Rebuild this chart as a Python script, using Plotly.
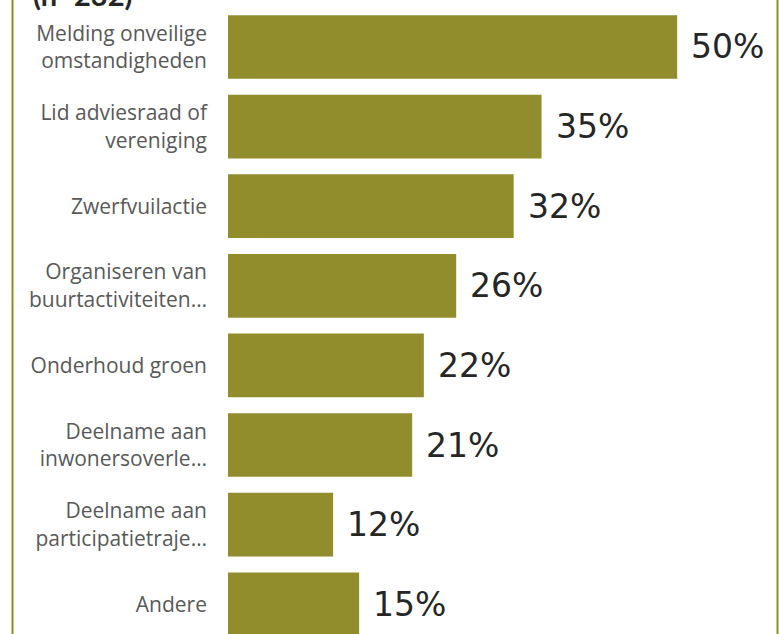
import plotly.graph_objects as go

categories = [
    "Melding onveilige<br>omstandigheden",
    "Lid adviesraad of<br>vereniging",
    "Zwerfvuilactie",
    "Organiseren van<br>buurtactiviteiten…",
    "Onderhoud groen",
    "Deelname aan<br>inwonersoverle…",
    "Deelname aan<br>participatietraje…",
    "Andere",
]
values = [50.0, 34.9, 31.8, 25.4, 21.8, 20.5, 11.7, 14.6]
labels = ["50%", "35%", "32%", "26%", "22%", "21%", "12%", "15%"]

olive = "#918D2C"

fig = go.Figure()
fig.add_trace(go.Bar(
    x=values, y=categories, orientation="h",
    marker=dict(color=olive, line=dict(width=0)),
    hoverinfo="skip", showlegend=False,
))

# value labels next to bar ends
for cat, val, lab in zip(categories, values, labels):
    fig.add_annotation(
        x=val, y=cat, text=lab, showarrow=False,
        xanchor="left", xshift=12,
        font=dict(family="DejaVu Sans", size=33, color="#262626"),
    )

# cut-off sample size heading
fig.add_annotation(
    xref="paper", yref="paper", x=-0.365, y=1, xanchor="left", yanchor="bottom",
    yshift=-14, text="<b>(n=232)</b>", showarrow=False,
    font=dict(family="Lato", size=29, color="#262626"),
)

# slide frame lines
for xp in [-0.3998, 1.0195]:
    fig.add_shape(type="line", xref="paper", yref="paper",
                  x0=xp, x1=xp, y0=0, y1=1,
                  line=dict(color="#8F8C2A", width=2))

fig.update_layout(
    width=779, height=634,
    margin=dict(l=228, r=12, t=0, b=0),
    plot_bgcolor="white", paper_bgcolor="white",
    bargap=0.2,
    xaxis=dict(range=[0, 60], visible=False),
    yaxis=dict(range=[7.374, -0.59], showgrid=False, showline=False,
               ticks="", ticklabelstandoff=20,
               tickfont=dict(family="Open Sans", size=21, color="#595959")),
)

fig.write_html("out.html", config={"displayModeBar": False},
               post_script="document.body.style.margin='0';")
